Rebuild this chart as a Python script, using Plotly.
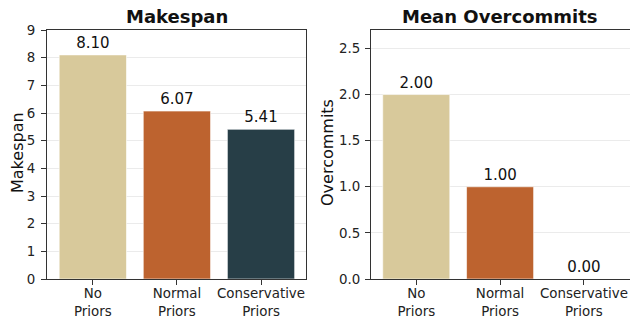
import plotly.graph_objects as go

categories = ["No<br>Priors", "Normal<br>Priors", "Conservative<br>Priors"]
makespan = [8.10, 6.07, 5.41]
overcommits = [2.00, 1.00, 0.00]
colors = ["#D8C99B", "#BD632F", "#273E47"]

W, H = 630, 320
def px(x): return x / W
def py(y): return 1 - y / H

fig = go.Figure()
for vals, xa, ya in [(makespan, "x", "y"), (overcommits, "x2", "y2")]:
    fig.add_trace(go.Bar(x=categories, y=vals,
                         marker=dict(color=colors, line=dict(color="rgba(255,255,255,0.6)", width=1)),
                         width=0.8, text=[f"{v:.2f}" for v in vals], textposition="outside",
                         textfont=dict(family="DejaVu Sans", size=15, color="#111"),
                         cliponaxis=False, xaxis=xa, yaxis=ya))

font = dict(family="DejaVu Sans", size=13.4, color="#222")
axcommon = dict(showline=True, linecolor="#333", linewidth=1, ticks="outside", ticklen=5,
                tickcolor="#333", tickfont=font, automargin=False)
fig.update_layout(
    width=W, height=H, margin=dict(l=0, r=0, t=0, b=0), showlegend=False,
    plot_bgcolor="white", paper_bgcolor="white", font=font,
    xaxis=dict(domain=[px(47), px(306)], anchor="y", range=[-0.545, 2.535], mirror=True, showgrid=False,
               ticklabelstandoff=-3, **axcommon),
    yaxis=dict(domain=[py(279), py(30)], anchor="x", range=[0, 9], dtick=1, mirror=True,
               showgrid=True, gridcolor="#ebebeb", gridwidth=1, zeroline=False,
               ticklabelstandoff=3, **axcommon),
    xaxis2=dict(domain=[px(371), 1.0], anchor="y2", range=[-0.54, 2.55], mirror=True, showgrid=False,
                ticklabelstandoff=-3, **axcommon),
    yaxis2=dict(domain=[py(279), py(30)], anchor="x2", range=[0, 2.7], dtick=0.5, tickformat=".1f",
                showgrid=True, gridcolor="#ebebeb", gridwidth=1, zeroline=False,
                ticklabelstandoff=2, **axcommon),
    annotations=[
        dict(text="<b>Makespan</b>", x=px(176.5), y=py(16), xref="paper", yref="paper",
             xanchor="center", yanchor="middle",
             showarrow=False, font=dict(family="DejaVu Sans", size=18, color="#111")),
        dict(text="<b>Mean Overcommits</b>", x=px(500), y=py(16), xref="paper", yref="paper",
             xanchor="center", yanchor="middle",
             showarrow=False, font=dict(family="DejaVu Sans", size=18, color="#111")),
        dict(text="Makespan", textangle=-90, x=px(17), y=py(153), xref="paper", yref="paper",
             xanchor="center", yanchor="middle",
             showarrow=False, font=dict(family="DejaVu Sans", size=16, color="#111")),
        dict(text="Overcommits", textangle=-90, x=px(327), y=py(153), xref="paper", yref="paper",
             xanchor="center", yanchor="middle",
             showarrow=False, font=dict(family="DejaVu Sans", size=16, color="#111")),
    ],
)
fig.write_html("out.html", config={"displayModeBar": False},
               post_script="document.body.style.margin='0px';document.body.style.overflow='hidden';")
